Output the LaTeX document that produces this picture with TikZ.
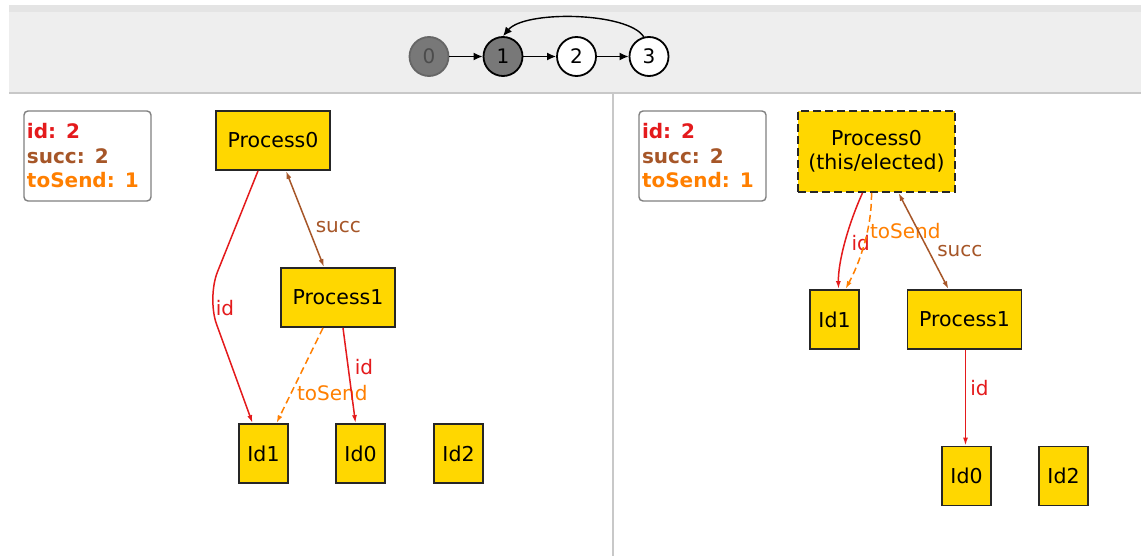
\documentclass[tikz,border=0pt]{standalone}
\usepackage{fontspec}
\setmainfont{DejaVu Sans}
\usetikzlibrary{arrows.meta}
\definecolor{idred}{RGB}{228,26,28}
\definecolor{succbrown}{RGB}{166,86,40}
\definecolor{sendorange}{RGB}{255,127,0}
\definecolor{boxgold}{RGB}{255,215,0}
\definecolor{bandgray}{RGB}{238,238,238}
\definecolor{bandtop}{RGB}{228,228,228}
\definecolor{rulegray}{RGB}{200,200,200}
\tikzset{
    obj/.style={draw=black!85, line width=1.8pt, fill=boxgold, inner sep=0pt, minimum height=59,
        font=\fontsize{20.5}{24}\selectfont},
    idbox/.style={obj, minimum width=49},
    procbox/.style={obj, minimum width=114},
    state/.style={circle, draw=black, line width=1.8pt, fill=white, minimum size=39, inner sep=0pt},
    vars/.style={draw=black!50, rounded corners=4pt, line width=1.4pt, fill=white,
        minimum width=127, minimum height=90, text width=121, inner xsep=3pt,
        align=left, font=\fontsize{20}{24.5}\selectfont\bfseries},
    lbl/.style={inner sep=1pt},
    tip/.style={-{Latex[length=8pt,width=5pt]}},
    idedge/.style={tip, draw=idred, line width=1.5pt},
    sendedge/.style={tip, draw=sendorange, line width=1.5pt, dash pattern=on 7pt off 4pt},
    succedge/.style={{Latex[length=8pt,width=5pt]}-{Latex[length=8pt,width=5pt]}, draw=succbrown, line width=1.5pt},
    flow/.style={-{Latex[length=9pt,width=8pt]}, line width=1.4pt}
}
\newcommand{\varsBox}[3]{
    \node[vars] (#1) at (#2,#3) {\textcolor{idred}{id: 2}\\\textcolor{succbrown}{succ: 2}\\\textcolor{sendorange}{toSend: 1}};
}

\begin{document}
\begin{tikzpicture}[x=1pt, y=-1pt, every node/.style={font=\fontsize{20}{23}\selectfont}]
    \useasboundingbox (0,0) rectangle (1141,556);
    \fill[white] (0,0) rectangle (1141,556);

    % Top band
    \fill[bandgray] (9,5) rectangle (1141,94);
    \fill[bandtop] (9,5) rectangle (1141,12);
    \draw[rulegray, line width=2pt] (9,93) -- (1141,93);
    \draw[rulegray, line width=1.5pt] (613,94) -- (613,556);

    % Steps
    \node[state, fill=black!53, draw=black!60, text=black!70] (n0) at (429,56.5) {0};
    \node[state, fill=black!53] (n1) at (503,56.5) {1};
    \node[state] (n2) at (576.5,56.5) {2};
    \node[state] (n3) at (649,56.5) {3};
    \draw[flow] (n0) -- (n1);
    \draw[flow] (n1) -- (n2);
    \draw[flow] (n2) -- (n3);
    \draw[flow] (n3.105) .. controls (628,12) and (525,10) .. (n1.north);

    % Left side
    \varsBox{legl}{87.5}{156}
    \node[procbox] (p0l) at (273,140.5) {Process0};
    \node[procbox] (p1l) at (338,297.5) {Process1};
    \node[idbox] (id1l) at (263.5,453.5) {Id1};
    \node[idbox] (id0l) at (360.5,453.5) {Id0};
    \node[idbox] (id2l) at (458.5,453.5) {Id2};

    \draw[idedge, rounded corners=28pt] ([xshift=-15]p0l.south) -- (207,298)
        node[lbl, text=idred, anchor=west, xshift=7, yshift=-10] {id} -- ([xshift=-11]id1l.north);
    \draw[succedge] ([xshift=13]p0l.south) --
        node[lbl, text=succbrown, pos=0.58, anchor=west, xshift=6] {succ} ([xshift=-14]p1l.north);
    \draw[sendedge] ([xshift=-15]p1l.south) --
        node[lbl, text=sendorange, pos=0.68, anchor=west, xshift=4] {toSend} ([xshift=13]id1l.north);
    \draw[idedge] ([xshift=5]p1l.south) --
        node[lbl, text=idred, pos=0.41, anchor=west, xshift=5] {id} ([xshift=-5]id0l.north);

    % Right side
    \varsBox{legr}{702.5}{156}
    \node[obj, dash pattern=on 8pt off 4pt, minimum width=157, minimum height=81, align=center]
        (p0r) at (876.5,151.5) {Process0\\(this/elected)};
    \node[idbox] (id1r) at (834.5,319.5) {Id1};
    \node[procbox] (p1r) at (964.5,319.5) {Process1};
    \node[idbox] (id0r) at (966.5,476) {Id0};
    \node[idbox] (id2r) at (1063.5,476) {Id2};

    \draw[idedge] ([xshift=-14]p0r.south) .. controls (848,225) and (838,262) ..
        node[lbl, text=idred, pos=0.5, anchor=west, xshift=5] {id} ([xshift=4]id1r.north);
    \draw[sendedge] ([xshift=-5]p0r.south) .. controls (872,228) and (860,262) ..
        node[lbl, text=sendorange, pos=0.33, anchor=west, yshift=-4] {toSend} ([xshift=11]id1r.north);
    \draw[succedge] ([xshift=22]p0r.south) --
        node[lbl, text=succbrown, pos=0.6, anchor=west, xshift=7] {succ} ([xshift=-16]p1r.north);
    \draw[idedge] ([xshift=1]p1r.south) --
        node[lbl, text=idred, pos=0.4, anchor=west, xshift=3] {id} ([xshift=-1]id0r.north);
\end{tikzpicture}
\end{document}
